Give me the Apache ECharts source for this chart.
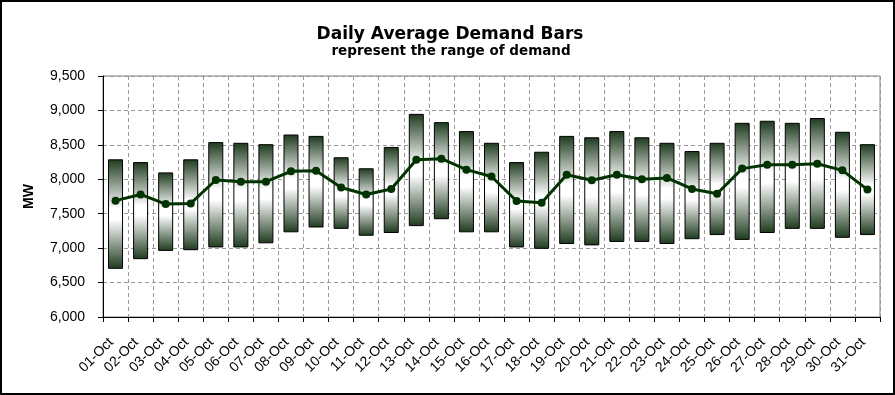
<!DOCTYPE html>
<html><head><meta charset="utf-8">
<script src="https://cdn.jsdelivr.net/npm/echarts@6/dist/echarts.min.js"></script>
<style>html,body{margin:0;padding:0;background:#fff}#c{width:895px;height:395px}</style>
</head><body><div id="c"></div>
<script>
const days = ['01-Oct','02-Oct','03-Oct','04-Oct','05-Oct','06-Oct','07-Oct','08-Oct','09-Oct','10-Oct','11-Oct','12-Oct','13-Oct','14-Oct','15-Oct','16-Oct','17-Oct','18-Oct','19-Oct','20-Oct','21-Oct','22-Oct','23-Oct','24-Oct','25-Oct','26-Oct','27-Oct','28-Oct','29-Oct','30-Oct','31-Oct'];
const lowDemand  = [6700,6840,6960,6970,7010,7010,7070,7230,7300,7280,7180,7220,7320,7420,7230,7230,7010,6990,7060,7040,7090,7090,7060,7130,7190,7120,7220,7280,7280,7150,7190];
const highDemand = [8290,8250,8100,8290,8540,8530,8510,8650,8630,8320,8160,8470,8950,8830,8700,8530,8250,8400,8630,8610,8700,8610,8530,8410,8530,8820,8850,8820,8890,8690,8510];
const avgDemand  = [7690,7780,7640,7650,7990,7965,7965,8115,8125,7880,7780,7860,8285,8300,8140,8040,7685,7660,8065,7985,8065,8000,8020,7860,7790,8155,8210,8210,8225,8130,7850];
const yTicks = {min:6000, max:9500, step:500};

const chart = echarts.init(document.getElementById('c'), null, {renderer:'canvas'});
const FONT = 'Liberation Sans, Arial, sans-serif';
const TFONT = 'DejaVu Sans, sans-serif';
const grad = new echarts.graphic.LinearGradient(0,0,0,1,[
  {offset:0, color:'#1e3a1e'},
  {offset:0.45, color:'#ffffff'},
  {offset:0.55, color:'#ffffff'},
  {offset:1, color:'#1e3a1e'}
]);
chart.setOption({
  animation:false,
  backgroundColor:'#fff',
  title:[
    {text:'Daily Average Demand Bars', left:445, top:21, textAlign:'center',
     textStyle:{fontFamily:TFONT, fontSize:17, fontWeight:'bold', color:'#000'}},
    {text:'represent the range of demand', left:446, top:39, textAlign:'center',
     textStyle:{fontFamily:TFONT, fontSize:13.5, fontWeight:'bold', color:'#000'}}
  ],
  grid:{left:103, right:15, top:76, bottom:78, show:true, borderColor:'#808080', borderWidth:1, backgroundColor:'#fff'},
  xAxis:{
    type:'category', data:days, boundaryGap:true,
    axisLine:{lineStyle:{color:'#000', width:1}},
    axisTick:{show:true, interval:0, length:5, lineStyle:{color:'#000'}},
    axisLabel:{interval:0, rotate:45, margin:19, padding:[0,6,0,0], fontFamily:FONT, fontSize:14, color:'#000'},
    splitLine:{show:true, interval:0, lineStyle:{color:'#999', type:[4,3], width:1}}
  },
  yAxis:{
    type:'value', min:yTicks.min, max:yTicks.max, interval:yTicks.step,
    name:'MW', nameLocation:'middle', nameGap:67, nameRotate:90,
    nameTextStyle:{fontFamily:FONT, fontSize:14, fontWeight:'bold', color:'#000'},
    axisLine:{show:true, lineStyle:{color:'#000', width:1}},
    axisTick:{show:true, length:5, lineStyle:{color:'#000'}},
    axisLabel:{margin:18, fontFamily:FONT, fontSize:14, color:'#000',
      formatter:v=>v.toLocaleString('en-US')},
    splitLine:{show:true, lineStyle:{color:'#999', type:[4,3], width:1}}
  },
  series:[
    {type:'bar', stack:'r', data:lowDemand, barWidth:15, itemStyle:{color:'transparent'}, silent:true},
    {type:'bar', stack:'r', data:highDemand.map((h,i)=>h-lowDemand[i]), barWidth:15,
     itemStyle:{color:grad, borderColor:'#000', borderWidth:1}},
    {type:'line', data:avgDemand, z:5, symbol:'circle', symbolSize:8,
     lineStyle:{color:'#003300', width:3}, itemStyle:{color:'#003300'}}
  ],
  graphic:[{type:'rect', shape:{x:1,y:1,width:893,height:393}, style:{fill:null, stroke:'#000', lineWidth:2}, z:100}]
});
</script></body></html>
